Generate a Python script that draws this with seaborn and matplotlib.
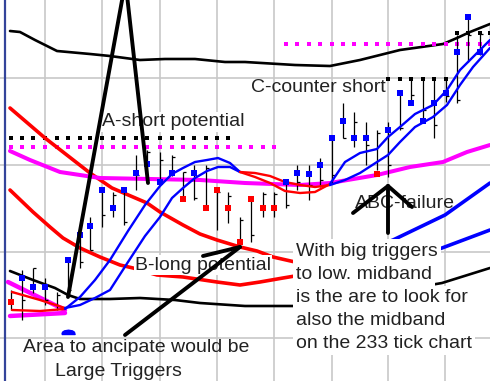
import numpy as np
import matplotlib
matplotlib.use("Agg")
import matplotlib.pyplot as plt
import seaborn as sns

# ---------------- data (chart units: x = time position, y = level, inverted) -------------
bar_x = [11, 22, 33, 45, 57, 68, 80, 90, 102, 113, 124, 136, 147, 160, 172, 183, 194, 206,
         217, 228, 240, 251, 263, 274, 286, 297, 309, 320, 332, 343, 354, 366, 377, 388,
         400, 411, 423, 434, 446, 457, 468, 480, 490]
bar_high = [290, 270, 268, 278, 292, 258, 235, 217, 190, 192, 190, 155, 150, 152, 155, 172,
            165, 165, 190, 192, 217, 198, 192, 192, 180, 165, 165, 158, 137, 103, 112, 122,
            130, 122, 92, 79, 79, 80, 80, 35, 17, 32, 25]
bar_low = [310, 320, 293, 305, 310, 297, 268, 250, 227, 217, 225, 190, 182, 185, 176, 200,
           200, 208, 230, 223, 242, 242, 217, 217, 208, 190, 200, 187, 183, 138, 147, 165,
           170, 177, 130, 103, 122, 138, 102, 103, 62, 55, 43]
bar_mark = [302, 278, 287, 287, np.nan, 260, 235, 226, 190, 208, 190, 173, 164, 182, 173, 199,
            173, 208, 190, 208, 242, 199, 208, 208, 182, 173, 174, 165, 138, 121, 138, 138,
            174, 130, 93, 103, 121, 103, 93, 52, 17, 52, np.nan]
bar_dir = ["dn", "up", "up", "up", "", "up", "up", "up", "up", "up", "up", "up", "up", "up",
           "up", "dn", "up", "dn", "dn", "dn", "dn", "dn", "dn", "dn", "up", "up", "up", "up",
           "up", "up", "up", "up", "dn", "up", "up", "up", "up", "up", "up", "up", "up", "up", ""]
bar_tick = [292, 300, 268, 300, 295, 290, 262, 250, 215, 195, 222, 175, 152, 160, 157, 172,
            198, 168, 192, 196, 220, 235, 194, 194, 205, 182, 185, 180, 175, 138, 122, 145,
            133, 165, 128, 95, 110, 125, 96, 100, 35, 34, 30]

# trigger pair (fast / slow)
trig_x = [12, 40, 65, 80, 95, 110, 128, 145, 160, 172, 183, 195, 207, 218, 230, 240, 255,
          270, 285, 300, 315, 330, 345, 360, 377, 388, 400, 415, 433, 447, 460, 473, 490]
trig_fast = [310, 311, 309, 297, 280, 260, 231, 205, 186, 174, 168, 162, 160, 158, 163, 172,
             177, 183, 191, 193, 192, 184, 162, 153, 149, 137, 127, 114, 105, 90, 70, 57, 40]
trig_slow = [292, 300, 308, 305, 298, 290, 262, 236, 217, 198, 188, 178, 171, 167, 167, 172,
             173, 176, 182, 185, 187, 185, 180, 173, 162, 155, 142, 127, 117, 105, 85, 67, 48]

# slower band pair
band1_x = [10, 45, 90, 112, 147, 160, 183, 200, 217, 240, 257, 273, 295, 340, 393, 445, 490]
band1_y = [108, 138, 173, 188, 203, 212, 225, 234, 240, 247, 251, 257, 262, 260, 240, 215, 183]
band2_x = [10, 33, 50, 63, 80, 100, 120, 133, 157, 183, 217, 240, 260, 283, 295, 340, 400, 442, 490]
band2_y = [190, 212, 227, 238, 248, 257, 265, 268, 275, 277, 282, 285, 282, 278, 276, 272, 262, 248, 230]

# midband
mid_x = [10, 30, 60, 100, 150, 200, 245, 300, 330, 377, 410, 443, 467, 490]
mid_y = [151, 160, 172, 178, 179, 180, 183, 185, 183, 175, 167, 162, 152, 145]
lowmid1_x = [8, 65]
lowmid1_y = [282, 310]
lowmid2_x = [10, 65]
lowmid2_y = [316, 313]

# outer envelope
upper_x = [10, 20, 35, 57, 90, 110, 140, 165, 195, 225, 245, 295, 330, 360, 400, 443, 457, 470, 490]
upper_y = [31, 32, 40, 51, 54, 56, 60, 59, 59, 62, 62, 65, 66, 60, 50, 44, 38, 32, 24]
lower_x = [10, 33, 55, 68, 80, 110, 140, 175, 200, 245, 295, 340, 390, 442, 490]
lower_y = [271, 280, 288, 295, 299, 299, 298, 300, 303, 306, 306, 300, 292, 283, 268]

# dotted levels
black_lvl = [138, 79, 33]
black_from = [11, 388, 457]
black_to = [228, 446, 490]
pink_lvl = [147, 44]
pink_from = [11, 283]
pink_to = [274, 490]

signal_x = [68]
signal_y = [334]

# hand-drawn annotation strokes
a_left = ([68, 123], [297, -5])
a_right = ([127, 148], [-5, 183])
b_shaft = ([125, 240], [335, 247])
b_wing = ([203, 240], [256, 247])
c_shaft = ([388, 388], [233, 186])
c_wing1 = ([353, 388], [213, 186])
c_wing2 = ([412, 388], [207, 186])

grid_x = [45, 102, 160, 217, 274, 332, 388, 445]
grid_y = [78, 165, 252, 338]

# ---------------- drawing -------------
sns.set_theme(style="white")
plt.rcParams['font.family'] = ['Liberation Sans', 'DejaVu Sans']

fig = plt.figure(figsize=(4.9, 3.81), dpi=100)
ax = fig.add_axes([0, 0, 1, 1])
ax.set_xlim(0, 490)
ax.set_ylim(381, 0)
ax.set_xticks(grid_x)
ax.set_yticks(grid_y)
ax.grid(True, color='#c8c8c8', lw=1.2)
ax.tick_params(length=0, labelbottom=False, labelleft=False)
for s in ax.spines.values():
    s.set_visible(False)
ax.axvline(5, color='#34449a', lw=1.6, zorder=1)

BLUE, RED, PINK = '#0000ff', '#ff0000', '#ff00ff'


def draw_runs(xs, ys, seg_colors, lw, z):
    start = 0
    for i in range(1, len(seg_colors) + 1):
        if i == len(seg_colors) or seg_colors[i] != seg_colors[start]:
            sns.lineplot(x=xs[start:i + 1], y=ys[start:i + 1], sort=False, estimator=None,
                         color=seg_colors[start], lw=lw, ax=ax, zorder=z, legend=False)
            start = i


def slope_colors(xs, ys):
    out = []
    for i in range(len(xs) - 1):
        sl = (ys[i + 1] - ys[i]) / (xs[i + 1] - xs[i])
        out.append(BLUE if sl < -0.25 else RED)
    return out


# envelope
sns.lineplot(x=upper_x, y=upper_y, sort=False, estimator=None, color='black', lw=1.9, ax=ax, zorder=2)
sns.lineplot(x=lower_x, y=lower_y, sort=False, estimator=None, color='black', lw=1.9, ax=ax, zorder=2)

# dotted levels
for lvl, a, b in zip(pink_lvl, pink_from, pink_to):
    xs = [x for x in bar_x if a <= x <= b]
    sns.scatterplot(x=xs, y=[lvl] * len(xs), marker='s', s=10, color=PINK, edgecolor='none', ax=ax, zorder=2)
for lvl, a, b in zip(black_lvl, black_from, black_to):
    xs = [x for x in bar_x if a <= x <= b]
    sns.scatterplot(x=xs, y=[lvl] * len(xs), marker='s', s=10, color='black', edgecolor='none', ax=ax, zorder=2)

# bands
draw_runs(band1_x, band1_y, slope_colors(band1_x, band1_y), 2.6, 2)
draw_runs(band2_x, band2_y, slope_colors(band2_x, band2_y), 2.6, 2)

# midband
sns.lineplot(x=mid_x, y=mid_y, sort=False, estimator=None, color=PINK, lw=2.9, ax=ax, zorder=2)
sns.lineplot(x=lowmid1_x, y=lowmid1_y, sort=False, estimator=None, color=PINK, lw=3.2, ax=ax, zorder=2)
sns.lineplot(x=lowmid2_x, y=lowmid2_y, sort=False, estimator=None, color=PINK, lw=3.2, ax=ax, zorder=2)

# bars
ax.vlines(bar_x, bar_high, bar_low, color='black', lw=0.9, zorder=3)
ax.hlines(bar_tick, bar_x, [x + 3 for x in bar_x], color='black', lw=0.9, zorder=3)
up_x = [x for x, d in zip(bar_x, bar_dir) if d == "up"]
up_y = [m for m, d in zip(bar_mark, bar_dir) if d == "up"]
dn_x = [x for x, d in zip(bar_x, bar_dir) if d == "dn"]
dn_y = [m for m, d in zip(bar_mark, bar_dir) if d == "dn"]
sns.scatterplot(x=up_x, y=up_y, marker='s', s=20, color=BLUE, edgecolor='none', ax=ax, zorder=5)
sns.scatterplot(x=dn_x, y=dn_y, marker='s', s=20, color=RED, edgecolor='none', ax=ax, zorder=5)

# triggers
tcol = [BLUE if trig_fast[i] + trig_fast[i + 1] < trig_slow[i] + trig_slow[i + 1] else RED
        for i in range(len(trig_x) - 1)]
draw_runs(trig_x, trig_fast, tcol, 1.7, 4)
draw_runs(trig_x, trig_slow, tcol, 1.7, 4)

dome = [(-1, 0), (-0.9, 0.35), (-0.6, 0.55), (0, 0.65), (0.6, 0.55), (0.9, 0.35), (1, 0), (-1, 0)]
ax.scatter(signal_x, signal_y, marker=dome, s=90, color=BLUE, zorder=4)

# texts
tk = dict(fontsize=14, color='#222222', va='center', ha='left', zorder=7)
box = dict(facecolor='white', edgecolor='none', pad=1)
ax.text(102, 122, "A-short potential", bbox=box, **tk)
ax.text(251, 87, "C-counter short", **tk)
ax.text(135, 265, "B-long potential", bbox=box, **tk)
ax.text(355, 203, "ABC-failure", **tk)
block = ["With big triggers", "to low. midband", "is the are to look for",
         "also the midband", "on the 233 tick chart"]
for i, line in enumerate(block):
    ax.text(296, 251 + 23.2 * i, line, bbox=dict(facecolor='white', edgecolor='none', pad=2.2), **tk)
ax.text(23, 348, "Area to ancipate would be", **tk)
ax.text(55, 372, "Large Triggers", **tk)

# hand-drawn strokes
for xs, ys in [a_left, a_right, b_shaft, b_wing, c_shaft, c_wing1, c_wing2]:
    ax.plot(xs, ys, color='black', lw=2.8, solid_capstyle='round', zorder=8)

fig.savefig("out.png", dpi=100)
